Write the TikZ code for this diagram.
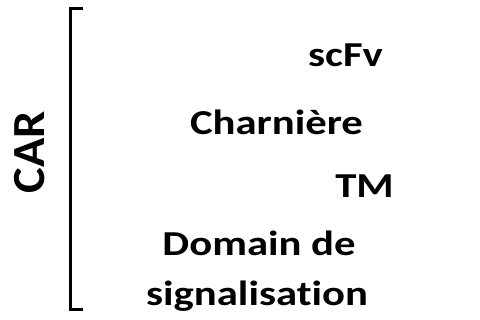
\documentclass[tikz,border=0pt]{standalone}
\usepackage{fontspec}
\setmainfont{Carlito}[Ligatures=NoCommon]
\tikzset{
  lbl/.style={font=\bfseries\fontsize{35}{35}\selectfont, inner sep=0pt, anchor=base,
    xscale=1.22, transform shape},
  carlbl/.style={font=\bfseries\fontsize{46}{46}\selectfont, inner sep=0pt, anchor=base,
    rotate=90, xscale=1.05, transform shape},
  brace/.style={line width=3pt, line cap=butt, line join=miter}
}
\begin{document}
\begin{tikzpicture}[x=1pt,y=-1pt]
  \useasboundingbox (0,0) rectangle (480,320);
  % bracket grouping the CAR parts
  \coordinate (btop) at (83,8.5);
  \coordinate (bbot) at (83,309.5);
  \draw[brace] (btop) -| (70,160) |- (bbot);
  % title
  \node[carlbl] (car) at (44,152.5) {CAR};
  % parts
  \node[lbl] (scfv) at (345.5,67) {scFv};
  \node[lbl] (hinge) at (276.5,135) {Charnière};
  \node[lbl] (tm) at (364.5,198) {TM};
  \node[lbl] (sig1) at (259,256) {Domain de};
  \node[lbl] (sig2) at (257,306) {signalisation};
\end{tikzpicture}
\end{document}
